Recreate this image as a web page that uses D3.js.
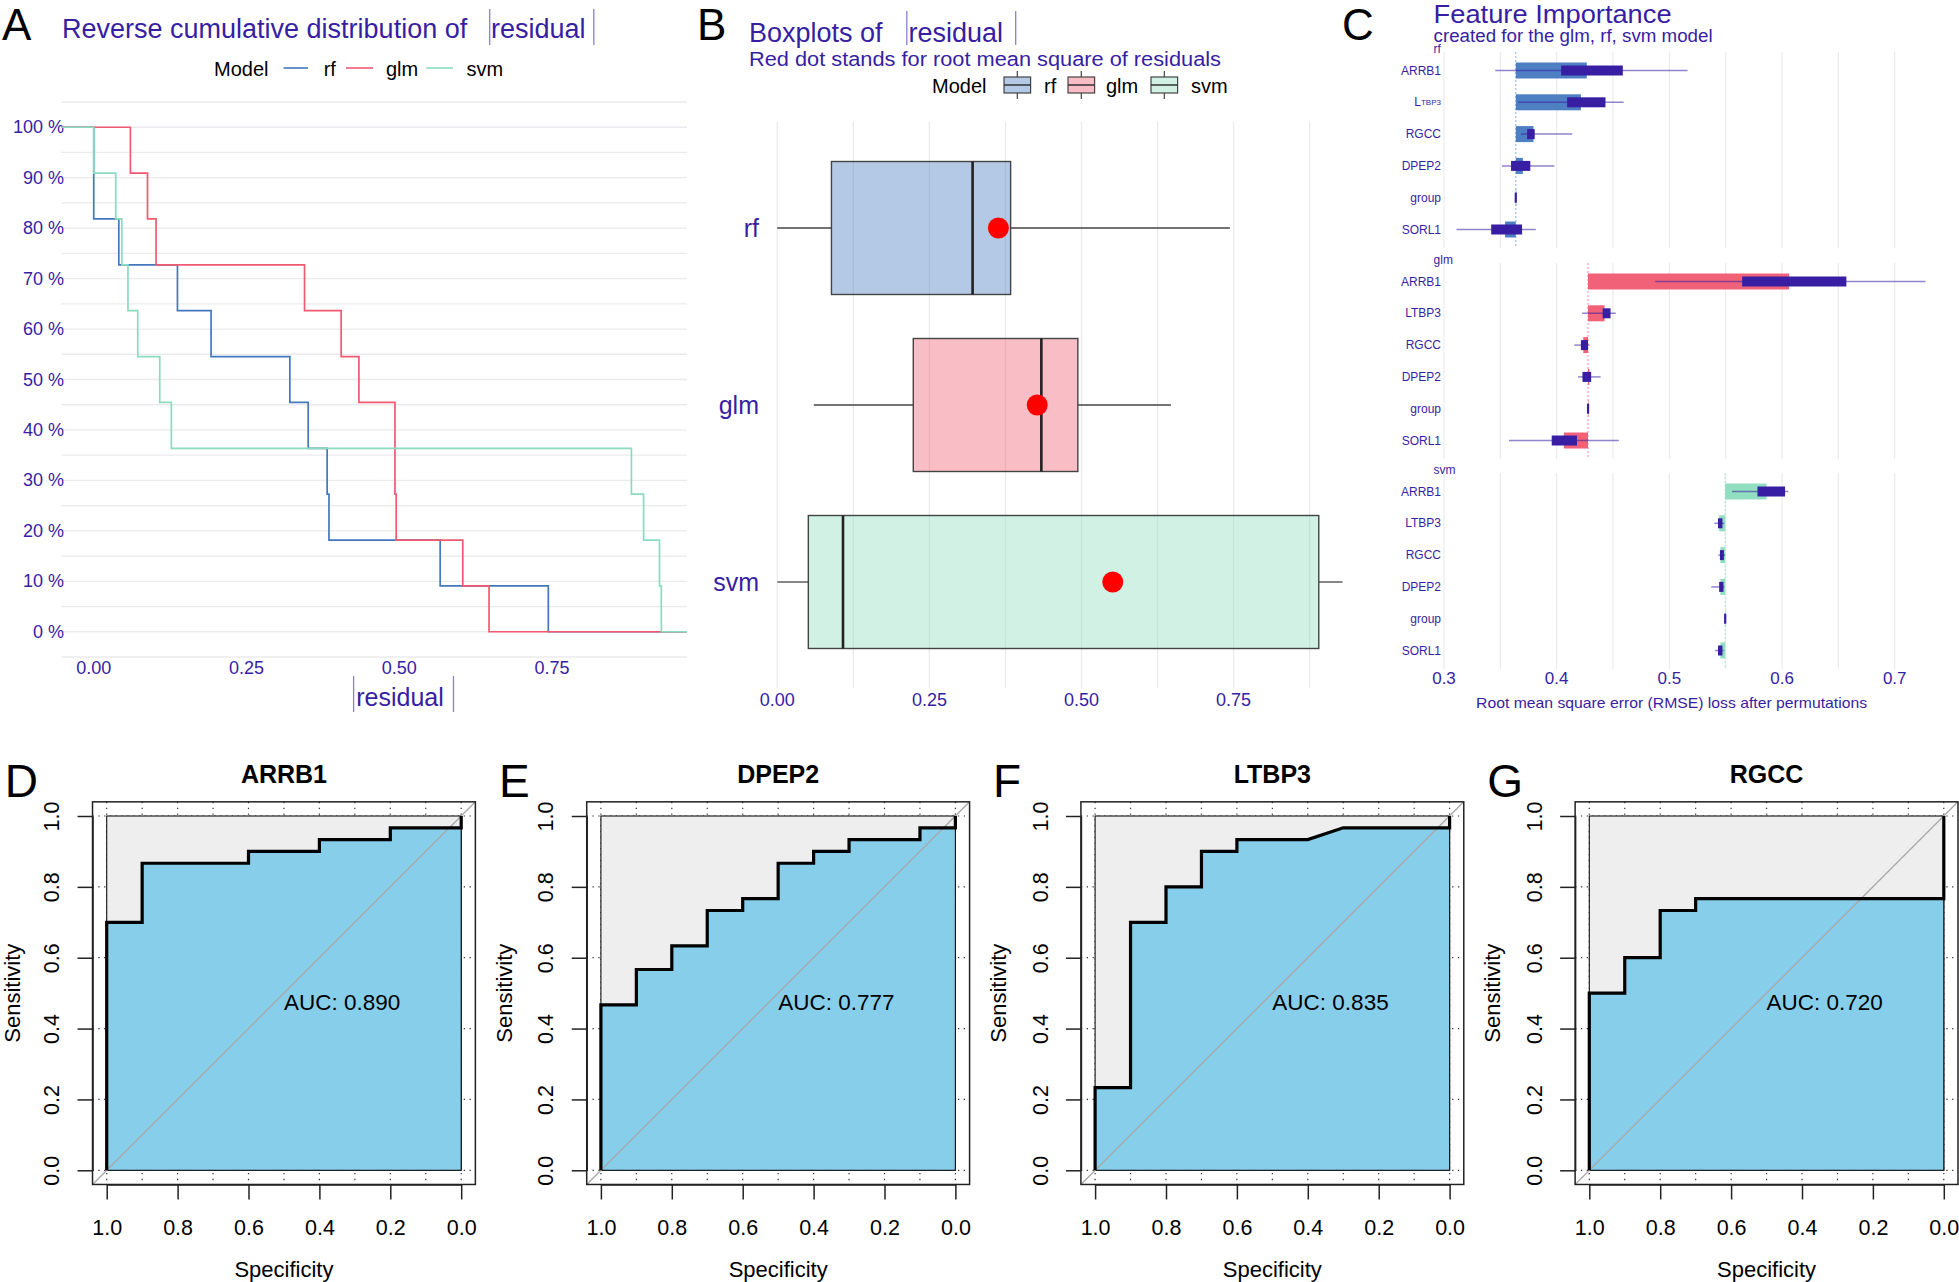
<!DOCTYPE html>
<html><head><meta charset="utf-8">
<script src="https://cdn.jsdelivr.net/npm/d3@7"></script>
<style>body{margin:0;background:#fff;} svg{display:block;font-family:"Liberation Sans",Arial,sans-serif;}</style>
</head><body>
<svg id="chart" width="1959" height="1282"></svg>
<script>
// ================= DATA =================
const models = ["rf", "glm", "svm"];
const modelColors = ["#4378bf", "#f05a71", "#8bdcbe"];
const residualsRf  = [0.000, 0.000, 0.041, 0.137, 0.192, 0.321, 0.351, 0.382, 0.385, 0.567, 0.744];
const residualsGlm = [0.060, 0.088, 0.102, 0.345, 0.405, 0.434, 0.493, 0.493, 0.495, 0.604, 0.647];
const residualsSvm = [0.000, 0.036, 0.046, 0.056, 0.072, 0.108, 0.127, 0.880, 0.900, 0.926, 0.929];
const ecdfYTicks  = [0, 0.1, 0.2, 0.3, 0.4, 0.5, 0.6, 0.7, 0.8, 0.9, 1.0];
const ecdfYLabels = ["0 %", "10 %", "20 %", "30 %", "40 %", "50 %", "60 %", "70 %", "80 %", "90 %", "100 %"];
const residualTicks = [0, 0.25, 0.5, 0.75];
const residualTickLabels = ["0.00", "0.25", "0.50", "0.75"];

// Feature importance (panel C)
const features = ["ARRB1", "LTBP3", "RGCC", "DPEP2", "group", "SORL1"];
const fullModelLoss = [0.3637, 0.4278, 0.5495];         // rf, glm, svm
const meanLossRf  = [0.4267, 0.4215, 0.3794, 0.3700, 0.3637, 0.3542];
const meanLossGlm = [0.6063, 0.4425, 0.4236, 0.4290, 0.4278, 0.4064];
const meanLossSvm = [0.5863, 0.5442, 0.5453, 0.5453, 0.5495, 0.5453];
const q1LossRf  = [0.4040, 0.4093, 0.3738, 0.3595, 0.3634, 0.3419];
const q3LossRf  = [0.4587, 0.4433, 0.3805, 0.3766, 0.3640, 0.3693];
const q1LossGlm = [0.5646, 0.4408, 0.4215, 0.4229, 0.4276, 0.3956];
const q3LossGlm = [0.6571, 0.4478, 0.4278, 0.4306, 0.4281, 0.4180];
const q1LossSvm = [0.5782, 0.5432, 0.5449, 0.5442, 0.5493, 0.5432];
const q3LossSvm = [0.6027, 0.5471, 0.5484, 0.5480, 0.5498, 0.5471];
const minLossRf  = [0.3455, 0.3660, 0.3682, 0.3514, 0.3637, 0.3111];
const maxLossRf  = [0.5162, 0.4594, 0.4138, 0.3980, 0.3637, 0.3815];
const minLossGlm = [0.4874, 0.4226, 0.4156, 0.4190, 0.4278, 0.3577];
const maxLossGlm = [0.7273, 0.4524, 0.4293, 0.4390, 0.4278, 0.4552];
const minLossSvm = [0.5557, 0.5400, 0.5435, 0.5372, 0.5495, 0.5407];
const maxLossSvm = [0.6055, 0.5487, 0.5495, 0.5487, 0.5495, 0.5480];
const importanceTicks = [0.3, 0.4, 0.5, 0.6, 0.7];

// ROC curves (panels D-G)
const rocGenes = ["ARRB1", "DPEP2", "LTBP3", "RGCC"];
const rocLetters = ["D", "E", "F", "G"];
const rocSpecArrb1 = [1, 1, 0.9, 0.9, 0.6, 0.6, 0.4, 0.4, 0.2, 0.2, 0, 0];
const rocSensArrb1 = [0, 0.7, 0.7, 0.8667, 0.8667, 0.9, 0.9, 0.9333, 0.9333, 0.9667, 0.9667, 1];
const rocSpecDpep2 = [1, 1, 0.9, 0.9, 0.8, 0.8, 0.7, 0.7, 0.6, 0.6, 0.5, 0.5, 0.4, 0.4, 0.3, 0.3, 0.1, 0.1, 0, 0];
const rocSensDpep2 = [0, 0.4667, 0.4667, 0.5667, 0.5667, 0.6333, 0.6333, 0.7333, 0.7333, 0.7667, 0.7667, 0.8667, 0.8667, 0.9, 0.9, 0.9333, 0.9333, 0.9667, 0.9667, 1];
const rocSpecLtbp3 = [1, 1, 0.9, 0.9, 0.8, 0.8, 0.7, 0.7, 0.6, 0.6, 0.4, 0.3, 0, 0];
const rocSensLtbp3 = [0, 0.2333, 0.2333, 0.7, 0.7, 0.8, 0.8, 0.9, 0.9, 0.9333, 0.9333, 0.9667, 0.9667, 1];
const rocSpecRgcc = [1, 1, 0.9, 0.9, 0.8, 0.8, 0.7, 0.7, 0, 0];
const rocSensRgcc = [0, 0.5, 0.5, 0.6, 0.6, 0.7333, 0.7333, 0.7667, 0.7667, 1];
const aucValues = [0.890, 0.777, 0.835, 0.720];
const rocTicks = [0, 0.2, 0.4, 0.6, 0.8, 1.0];

// ================= DRAWING =================
const svg = d3.select("#chart");
const DRWHY = "#371ea3";
const BAR = "#8a7fd0";
svg.append("rect").attr("width", 1959).attr("height", 1282).attr("fill", "#fff");

function txt(g, x, y, s, opts = {}) {
  const t = g.append("text").attr("x", x).attr("y", y).text(s)
    .attr("font-size", opts.size || 16).attr("fill", opts.fill || "#000");
  if (opts.anchor) t.attr("text-anchor", opts.anchor);
  if (opts.weight) t.attr("font-weight", opts.weight);
  if (opts.base) t.attr("dominant-baseline", opts.base);
  if (opts.len) t.attr("textLength", opts.len).attr("lengthAdjust", "spacingAndGlyphs");
  return t;
}
function vbar(g, x, y1, y2) {
  g.append("line").attr("x1", x).attr("x2", x).attr("y1", y1).attr("y2", y2)
    .attr("stroke", BAR).attr("stroke-width", 1.3);
}

// ---------- Panel letters ----------
txt(svg, 2, 40, "A", {size: 44});
txt(svg, 697, 40, "B", {size: 44});
txt(svg, 1342, 40, "C", {size: 44});

// ---------- Panel A ----------
(function () {
  const g = svg.append("g");
  const residuals = [residualsRf, residualsGlm, residualsSvm];
  const x = d3.scaleLinear([-0.0536, 0.971], [61, 687]);
  const y = d3.scaleLinear([-0.05, 1.05], [657, 102]);
  // title
  txt(g, 62, 38, "Reverse cumulative distribution of", {size: 27, fill: DRWHY});
  txt(g, 491, 38, "residual", {size: 27, fill: DRWHY});
  vbar(g, 489.7, 9, 45); vbar(g, 593.8, 9, 45);
  // legend
  txt(g, 214, 76, "Model", {size: 20});
  const legX = [[283.5, 308, 323.7], [346, 373, 386], [426.3, 453, 466.5]];
  models.forEach((m, i) => {
    g.append("line").attr("x1", legX[i][0]).attr("x2", legX[i][1]).attr("y1", 68).attr("y2", 68)
      .attr("stroke", modelColors[i]).attr("stroke-width", 1.6);
    txt(g, legX[i][2], 76, m, {size: 20});
  });
  // grid
  d3.range(23).map(k => -0.05 + k * 0.05).forEach(v => {
    g.append("line").attr("x1", 61).attr("x2", 687).attr("y1", y(v)).attr("y2", y(v))
      .attr("stroke", "#ebebef").attr("stroke-width", 1.3);
  });
  // y labels
  ecdfYTicks.forEach((v, i) => txt(g, 64, y(v), ecdfYLabels[i], {size: 18, fill: DRWHY, anchor: "end", base: "central"}));
  // x labels
  residualTicks.forEach((v, i) => txt(g, x(v), 668, residualTickLabels[i], {size: 18, fill: DRWHY, anchor: "middle", base: "central"}));
  txt(g, 400, 706, "residual", {size: 25, fill: DRWHY, anchor: "middle"});
  vbar(g, 353.6, 676, 712); vbar(g, 453.5, 676, 712);
  // step lines
  const line = d3.line().curve(d3.curveStepAfter).x(d => x(d[0])).y(d => y(d[1]));
  residuals.forEach((vals, i) => {
    const s = vals.slice().sort(d3.ascending), n = s.length;
    const pts = [[x.domain()[0], 1]];
    Array.from(new Set(s)).forEach(v => pts.push([v, 1 - s.filter(d => d <= v).length / n]));
    pts.push([x.domain()[1], 0]);
    g.append("path").attr("d", line(pts)).attr("fill", "none")
      .attr("stroke", modelColors[i]).attr("stroke-width", 1.7);
  });
})();

// ---------- Panel B ----------
(function () {
  const g = svg.append("g");
  const residuals = [residualsRf, residualsGlm, residualsSvm];
  const x = d3.scaleLinear([0, 0.75], [777.3, 1233.6]);
  const y = d3.scalePoint(models, [228, 582]);
  const boxH = 133;
  txt(g, 749, 42, "Boxplots of", {size: 27, fill: DRWHY});
  txt(g, 908.5, 42, "residual", {size: 27, fill: DRWHY});
  vbar(g, 906.8, 11, 45); vbar(g, 1015.7, 11, 45);
  txt(g, 749, 65.5, "Red dot stands for root mean square of residuals", {size: 20, fill: DRWHY, len: 472});
  // legend
  txt(g, 932, 93, "Model", {size: 20});
  const keyX = [1004, 1068, 1151], labX = [1044, 1106, 1191];
  models.forEach((m, i) => {
    const kx = keyX[i];
    g.append("line").attr("x1", kx + 13.3).attr("x2", kx + 13.3).attr("y1", 71).attr("y2", 99).attr("stroke", "#444").attr("stroke-width", 1.2);
    g.append("rect").attr("x", kx).attr("y", 77).attr("width", 26.6).attr("height", 16)
      .attr("fill", "#fff");
    g.append("rect").attr("x", kx).attr("y", 77).attr("width", 26.6).attr("height", 16)
      .attr("fill", modelColors[i]).attr("fill-opacity", 0.4).attr("stroke", "#444").attr("stroke-width", 1.2);
    g.append("line").attr("x1", kx).attr("x2", kx + 26.6).attr("y1", 85).attr("y2", 85).attr("stroke", "#333").attr("stroke-width", 1.5);
    txt(g, labX[i], 93, m, {size: 20});
  });
  // grid
  d3.range(8).map(k => k * 0.125).forEach(v => {
    g.append("line").attr("x1", x(v)).attr("x2", x(v)).attr("y1", 122).attr("y2", 688)
      .attr("stroke", "#ebebef").attr("stroke-width", 1.3);
  });
  residualTicks.forEach((v, i) => txt(g, x(v), 700, residualTickLabels[i], {size: 18, fill: DRWHY, anchor: "middle", base: "central"}));
  models.forEach((m, i) => txt(g, 759, y(m), m, {size: 25, fill: DRWHY, anchor: "end", base: "central"}));
  residuals.forEach((vals, i) => {
    const s = vals.slice().sort(d3.ascending);
    const q1 = d3.quantile(s, 0.25), med = d3.quantile(s, 0.5), q3 = d3.quantile(s, 0.75);
    const iqr = q3 - q1;
    const lo = d3.min(s.filter(v => v >= q1 - 1.5 * iqr)), hi = d3.max(s.filter(v => v <= q3 + 1.5 * iqr));
    const rmse = Math.sqrt(d3.mean(s, v => v * v));
    const cy = y(models[i]);
    g.append("line").attr("x1", x(lo)).attr("x2", x(q1)).attr("y1", cy).attr("y2", cy).attr("stroke", "#444").attr("stroke-width", 1.3);
    g.append("line").attr("x1", x(q3)).attr("x2", x(hi)).attr("y1", cy).attr("y2", cy).attr("stroke", "#444").attr("stroke-width", 1.3);
    g.append("rect").attr("x", x(q1)).attr("y", cy - boxH / 2).attr("width", x(q3) - x(q1)).attr("height", boxH)
      .attr("fill", modelColors[i]).attr("fill-opacity", 0.4).attr("stroke", "#444").attr("stroke-width", 1.4);
    g.append("line").attr("x1", x(med)).attr("x2", x(med)).attr("y1", cy - boxH / 2).attr("y2", cy + boxH / 2)
      .attr("stroke", "#222").attr("stroke-width", 2.6);
    g.append("circle").attr("cx", x(rmse)).attr("cy", cy).attr("r", 10.5).attr("fill", "#ff0000");
  });
})();

// ---------- Panel C ----------
(function () {
  const g = svg.append("g");
  const x = d3.scaleLinear([0.3, 0.7], [1444, 1894.7]);
  const meanL = [meanLossRf, meanLossGlm, meanLossSvm];
  const q1L = [q1LossRf, q1LossGlm, q1LossSvm], q3L = [q3LossRf, q3LossGlm, q3LossSvm];
  const minL = [minLossRf, minLossGlm, minLossSvm], maxL = [maxLossRf, maxLossGlm, maxLossSvm];
  const tops = [52, 263, 473], panelH = 196;
  const dashCols = ["#9fbce6", "#f7a3b0", "#b9ead7"];
  txt(g, 1433.6, 23, "Feature Importance", {size: 26, fill: DRWHY, len: 238});
  txt(g, 1433.6, 41.5, "created for the glm, rf, svm model", {size: 18, fill: DRWHY, len: 279});
  models.forEach((m, mi) => {
    const top = tops[mi];
    const y = d3.scalePoint(features, [top + 18.5, top + 18.5 + 159]);
    txt(g, 1433.6, top + 0.5, m, {size: 12, fill: DRWHY});
    d3.range(9).map(k => 0.3 + k * 0.05).forEach(v => {
      g.append("line").attr("x1", x(v)).attr("x2", x(v)).attr("y1", top).attr("y2", top + panelH)
        .attr("stroke", "#ebebef").attr("stroke-width", 1.2);
    });
    const base = fullModelLoss[mi];
    g.append("line").attr("x1", x(base)).attr("x2", x(base)).attr("y1", top).attr("y2", top + panelH)
      .attr("stroke", dashCols[mi]).attr("stroke-width", 1.2).attr("stroke-dasharray", "2,2");
    features.forEach((f, fi) => {
      const cy = y(f);
      // label
      if (mi === 0 && f === "LTBP3") {
        const t = g.append("text").attr("x", 1441).attr("y", cy).attr("text-anchor", "end")
          .attr("dominant-baseline", "central").attr("fill", DRWHY).attr("font-size", 12);
        t.append("tspan").text("L");
        t.append("tspan").attr("font-size", 8).text("TBP3");
      } else {
        txt(g, 1441, cy, f, {size: 12, fill: DRWHY, anchor: "end", base: "central"});
      }
      const v = meanL[mi][fi];
      const x0 = Math.min(x(v), x(base)), x1 = Math.max(x(v), x(base));
      g.append("rect").attr("x", x0).attr("y", cy - 8).attr("width", Math.max(x1 - x0, 0.5)).attr("height", 16)
        .attr("fill", modelColors[mi]).attr("fill-opacity", 0.95);
      g.append("line").attr("x1", x(minL[mi][fi])).attr("x2", x(maxL[mi][fi])).attr("y1", cy).attr("y2", cy)
        .attr("stroke", DRWHY).attr("stroke-opacity", 0.55).attr("stroke-width", 1.5);
      const b0 = x(q1L[mi][fi]), b1 = x(q3L[mi][fi]);
      const bw = Math.max(b1 - b0, 2.2);
      g.append("rect").attr("x", (b0 + b1) / 2 - bw / 2).attr("y", cy - 5).attr("width", bw).attr("height", 10)
        .attr("fill", DRWHY);
    });
  });
  importanceTicks.forEach(v => txt(g, x(v), 678, String(v), {size: 17, fill: DRWHY, anchor: "middle", base: "central"}));
  txt(g, 1671.6, 703, "Root mean square error (RMSE) loss after permutations", {size: 14.5, fill: DRWHY, anchor: "middle", base: "central", len: 391});
})();

// ---------- Panels D-G (ROC) ----------
(function () {
  const specs = [rocSpecArrb1, rocSpecDpep2, rocSpecLtbp3, rocSpecRgcc];
  const senss = [rocSensArrb1, rocSensDpep2, rocSensLtbp3, rocSensRgcc];
  rocGenes.forEach((gene, i) => {
    const g = svg.append("g");
    const L = 106.7 + i * 494.2, R = L + 354.5, T = 816, B = 1170.3;
    const x = d3.scaleLinear([1, 0], [L, R]);
    const y = d3.scaleLinear([0, 1], [B, T]);
    const fx0 = x(1.04), fx1 = x(-0.04), fy0 = y(1.04), fy1 = y(-0.04);
    const spec = specs[i], sens = senss[i];
    // letter and title
    txt(g, L - 102, 797, rocLetters[i], {size: 46});
    txt(g, (L + R) / 2, 783, gene, {size: 25, weight: "bold", anchor: "middle"});
    // dotted grid
    d3.range(11).map(k => k / 10).forEach(v => {
      g.append("line").attr("x1", x(v)).attr("x2", x(v)).attr("y1", fy0).attr("y2", fy1)
        .attr("stroke", "#333").attr("stroke-width", 1.2).attr("stroke-dasharray", "1.3,4.5");
    });
    rocTicks.forEach(v => {
      g.append("line").attr("x1", fx0).attr("x2", fx1).attr("y1", y(v)).attr("y2", y(v))
        .attr("stroke", "#333").attr("stroke-width", 1.2).attr("stroke-dasharray", "1.3,4.5");
    });
    // max AUC polygon
    g.append("rect").attr("x", L).attr("y", T).attr("width", R - L).attr("height", B - T)
      .attr("fill", "#eeeeee").attr("stroke", "#111").attr("stroke-width", 1.1);
    // AUC polygon
    const pts = spec.map((s, j) => [x(s), y(sens[j])]);
    g.append("path").attr("d", "M" + pts.concat([[x(0), y(0)]]).map(p => p.join(",")).join("L") + "Z")
      .attr("fill", "#87ceeb").attr("stroke", "#111").attr("stroke-width", 1.1);
    // diagonal
    g.append("line").attr("x1", fx0).attr("y1", fy1).attr("x2", fx1).attr("y2", fy0)
      .attr("stroke", "#a8a8a8").attr("stroke-width", 1.3);
    // ROC curve
    g.append("path").attr("d", d3.line()(pts)).attr("fill", "none").attr("stroke", "#000")
      .attr("stroke-width", 3.2).attr("stroke-linejoin", "miter");
    // frame
    g.append("rect").attr("x", fx0).attr("y", fy0).attr("width", fx1 - fx0).attr("height", fy1 - fy0)
      .attr("fill", "none").attr("stroke", "#222").attr("stroke-width", 1.5);
    // axes
    const ax = g.append("g").attr("transform", `translate(0,${fy1})`)
      .call(d3.axisBottom(x).tickValues(rocTicks).tickSize(15).tickSizeOuter(0).tickFormat(d3.format(".1f")));
    ax.select(".domain").attr("stroke", "#222").attr("stroke-width", 1.5);
    ax.selectAll(".tick line").attr("stroke", "#222").attr("stroke-width", 1.5);
    ax.selectAll("text").attr("y", 43).attr("dy", "0.35em").attr("font-size", 21.5)
      .attr("font-family", '"Liberation Sans",Arial,sans-serif').attr("fill", "#000");
    const ay = g.append("g").attr("transform", `translate(${fx0},0)`)
      .call(d3.axisLeft(y).tickValues(rocTicks).tickSize(15).tickSizeOuter(0).tickFormat(d3.format(".1f")));
    ay.select(".domain").attr("stroke", "#222").attr("stroke-width", 1.5);
    ay.selectAll(".tick line").attr("stroke", "#222").attr("stroke-width", 1.5);
    ay.selectAll("text").attr("x", 0).attr("dy", "0.35em").attr("text-anchor", "middle")
      .attr("transform", `translate(${(L - 55) - fx0},0) rotate(-90)`)
      .attr("font-size", 21.5).attr("font-family", '"Liberation Sans",Arial,sans-serif').attr("fill", "#000");
    // axis titles
    txt(g, (L + R) / 2, 1269, "Specificity", {size: 22, anchor: "middle", base: "central"});
    g.append("text").attr("transform", `translate(${Math.max(L - 96.7, 12.5)},${(T + B) / 2}) rotate(-90)`)
      .attr("text-anchor", "middle").attr("dominant-baseline", "central").attr("font-size", 22).text("Sensitivity");
    // AUC label
    txt(g, x(0.5), y(0.5) + 17, "AUC: " + aucValues[i].toFixed(3), {size: 22.5});
  });
})();
</script>
</body></html>
